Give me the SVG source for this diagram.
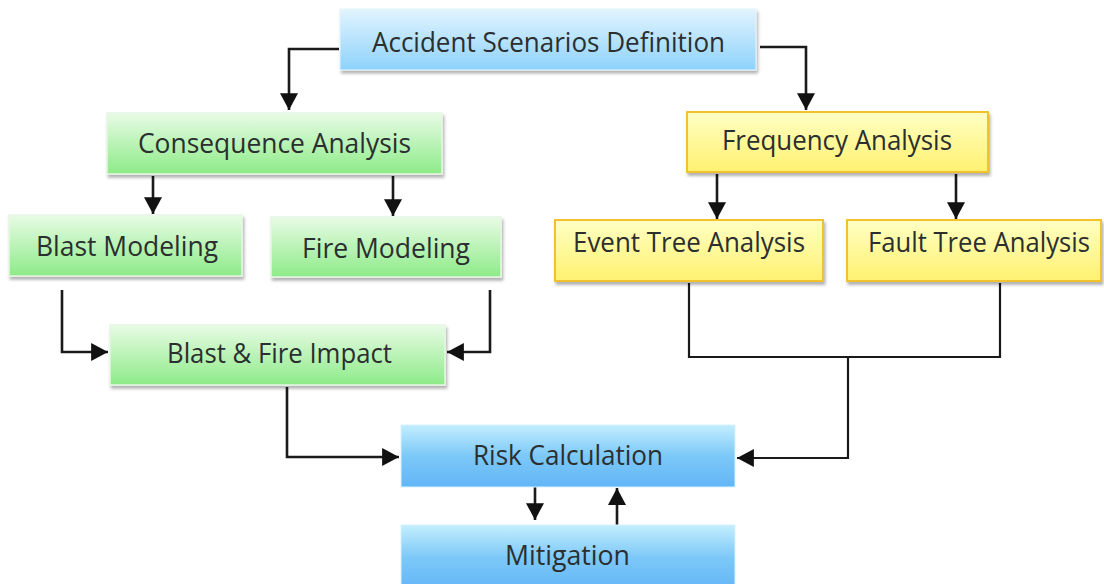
<svg xmlns="http://www.w3.org/2000/svg" width="1104" height="584" viewBox="0 0 1104 584">
<style>
.t{font-family:"Open Sans","Noto Sans","Liberation Sans",sans-serif;font-size:27px;fill:#2b2f2f}
.c{fill:none;stroke:#1a1a1a;stroke-width:2.6;stroke-linejoin:miter}
.blue{fill:url(#gBlue);stroke:#e4f4fc;stroke-width:1}
.blue2{fill:url(#gBlue2);stroke:#d8f2fd;stroke-width:1}
.green{fill:url(#gGreen);stroke:#e6f6e4;stroke-width:1.5}
.yellow{fill:url(#gYellow);stroke:#f2c12e;stroke-width:2}
</style>
<defs>
<linearGradient id="gBlue" x1="0" y1="0" x2="0" y2="1">
<stop offset="0" stop-color="#e2f4fe"/><stop offset="1" stop-color="#8ed2fb"/>
</linearGradient>
<linearGradient id="gBlue2" x1="0" y1="0" x2="0" y2="1">
<stop offset="0" stop-color="#c3eefe"/><stop offset="0.5" stop-color="#7cc8f8"/><stop offset="1" stop-color="#62b5f6"/>
</linearGradient>
<linearGradient id="gGreen" x1="0" y1="0" x2="0" y2="1">
<stop offset="0" stop-color="#e8fbe5"/><stop offset="1" stop-color="#8deb88"/>
</linearGradient>
<linearGradient id="gYellow" x1="0" y1="0" x2="0" y2="1">
<stop offset="0" stop-color="#ffffc4"/><stop offset="1" stop-color="#fff170"/>
</linearGradient>
<filter id="sh" x="-5%" y="-10%" width="115%" height="140%">
<feDropShadow dx="1.5" dy="3" stdDeviation="1.8" flood-color="#000" flood-opacity="0.3"/>
</filter>
<marker id="ar" markerUnits="userSpaceOnUse" markerWidth="18" markerHeight="18" viewBox="0 0 16 16" refX="15" refY="8" orient="auto">
<path d="M0,0 L15,8 L0,16 Z" fill="#111"/>
</marker>
</defs>
<g id="connectors">
<polyline class="c" points="339,49 289,49 289,110" marker-end="url(#ar)"/>
<polyline class="c" points="760,47 806,47 806,110" marker-end="url(#ar)"/>
<polyline class="c" points="153,176 153,214" marker-end="url(#ar)"/>
<polyline class="c" points="393,176 393,216" marker-end="url(#ar)"/>
<polyline class="c" points="717,174 717,219" marker-end="url(#ar)"/>
<polyline class="c" points="956,174 956,219" marker-end="url(#ar)"/>
<polyline class="c" points="62,290 62,352 108,352" marker-end="url(#ar)"/>
<polyline class="c" points="490,290 490,352 447,352" marker-end="url(#ar)"/>
<polyline class="c" points="287,387 287,457 399,457" marker-end="url(#ar)"/>
<polyline class="c" points="689,283 689,357 1000,357 1000,283" style="stroke-width:2.2"/>
<polyline class="c" points="848,357 848,458 737,458" style="stroke-width:2.2" marker-end="url(#ar)"/>
<polyline class="c" points="535,482 535,520" marker-end="url(#ar)"/>
<polyline class="c" points="617,525 617,488" marker-end="url(#ar)"/>
</g>
<g id="accident">
<rect class="blue" x="340" y="9" width="416" height="61" filter="url(#sh)"/>
<text class="t" x="372" y="52" textLength="353" lengthAdjust="spacingAndGlyphs">Accident Scenarios Definition</text>
</g>
<g id="consequence">
<rect class="green" x="107" y="113" width="335" height="61" filter="url(#sh)"/>
<text class="t" x="138" y="153" textLength="273" lengthAdjust="spacingAndGlyphs">Consequence Analysis</text>
</g>
<g id="frequency">
<rect class="yellow" x="687" y="112" width="301" height="60" filter="url(#sh)"/>
<text class="t" x="722" y="150" textLength="230" lengthAdjust="spacingAndGlyphs">Frequency Analysis</text>
</g>
<g id="blast">
<rect class="green" x="9" y="215" width="233" height="61" filter="url(#sh)"/>
<text class="t" x="36" y="256" textLength="182" lengthAdjust="spacingAndGlyphs">Blast Modeling</text>
</g>
<g id="fire">
<rect class="green" x="271" y="217" width="230" height="60" filter="url(#sh)"/>
<text class="t" x="302" y="258" textLength="168" lengthAdjust="spacingAndGlyphs">Fire Modeling</text>
</g>
<g id="event">
<rect class="yellow" x="555" y="220" width="268" height="61" filter="url(#sh)"/>
<text class="t" x="573" y="252" textLength="232" lengthAdjust="spacingAndGlyphs">Event Tree Analysis</text>
</g>
<g id="fault">
<rect class="yellow" x="847" y="220" width="254" height="61" filter="url(#sh)"/>
<text class="t" x="868" y="252" textLength="222" lengthAdjust="spacingAndGlyphs">Fault Tree Analysis</text>
</g>
<g id="impact">
<rect class="green" x="110" y="325" width="335" height="60" filter="url(#sh)"/>
<text class="t" x="167" y="363" textLength="225" lengthAdjust="spacingAndGlyphs">Blast &amp; Fire Impact</text>
</g>
<g id="risk">
<rect class="blue2" x="401" y="425" width="334" height="62"/>
<text class="t" x="473" y="465" textLength="190" lengthAdjust="spacingAndGlyphs">Risk Calculation</text>
</g>
<g id="mitigation">
<rect class="blue2" x="401" y="525" width="334" height="66"/>
<text class="t" x="505" y="565" textLength="125" lengthAdjust="spacingAndGlyphs">Mitigation</text>
</g>
</svg>
